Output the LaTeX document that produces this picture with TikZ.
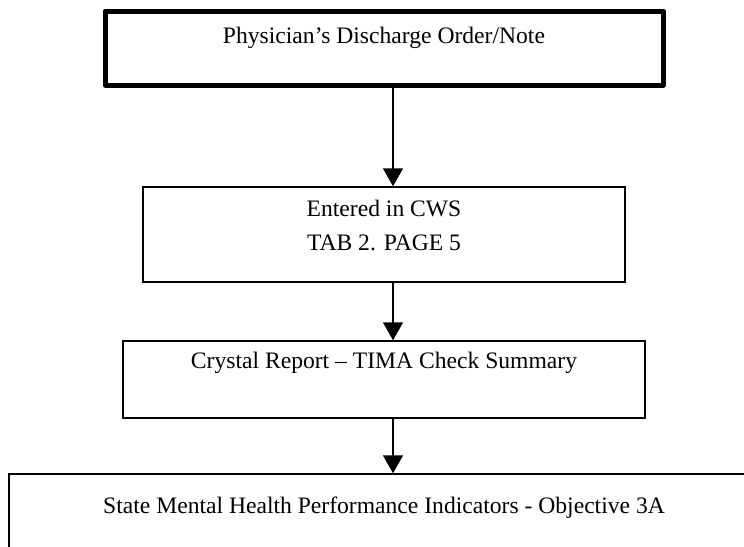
\documentclass[tikz,border=0pt]{standalone}
\usepackage{fontspec}
\setmainfont{Liberation Serif}
\usetikzlibrary{arrows.meta}

\begin{document}
\begin{tikzpicture}[x=1pt,y=-1pt,
 stage/.style={draw,rectangle,line width=1.5pt,inner sep=0pt},
 lbl/.style={anchor=base,inner sep=0pt,font=\fontsize{23.6}{34}\selectfont},
 flow/.style={line width=1.5pt,-{Triangle[width=20pt,length=18pt]}}]
\useasboundingbox (0,0) rectangle (744,546);
\clip (0,0) rectangle (744,546);
% boxes, top to bottom
\node[stage,line width=5pt,line join=round,minimum width=558pt,minimum height=74pt] (order) at (384,48) {};
\node[lbl] (ordertxt) at (384,43) {Physician’s Discharge Order/Note};
\node[stage,minimum width=482pt,minimum height=95pt] (cws) at (384,234.5) {};
\node[lbl] (cwstxt) at (384,216) {Entered in CWS};
\node[lbl] (tabtxt) at (384,250) {TAB 2. PAGE 5};
\node[stage,minimum width=522pt,minimum height=77pt] (crystal) at (384,379.5) {};
\node[lbl] (crystaltxt) at (384,368) {Crystal Report – TIMA Check Summary};
\node[stage,minimum width=750pt,minimum height=110pt] (state) at (384,529) {};
\node[lbl] (statetxt) at (384,513) {State Mental Health Performance Indicators - Objective 3A};
% arrows
\draw[flow] ([xshift=9pt]order.south) -- ([xshift=9pt]cws.north);
\draw[flow] ([xshift=9pt]cws.south) -- ([xshift=9pt]crystal.north);
\draw[flow] ([xshift=9pt]crystal.south) -- ([xshift=9pt]state.north);
\end{tikzpicture}
\end{document}
